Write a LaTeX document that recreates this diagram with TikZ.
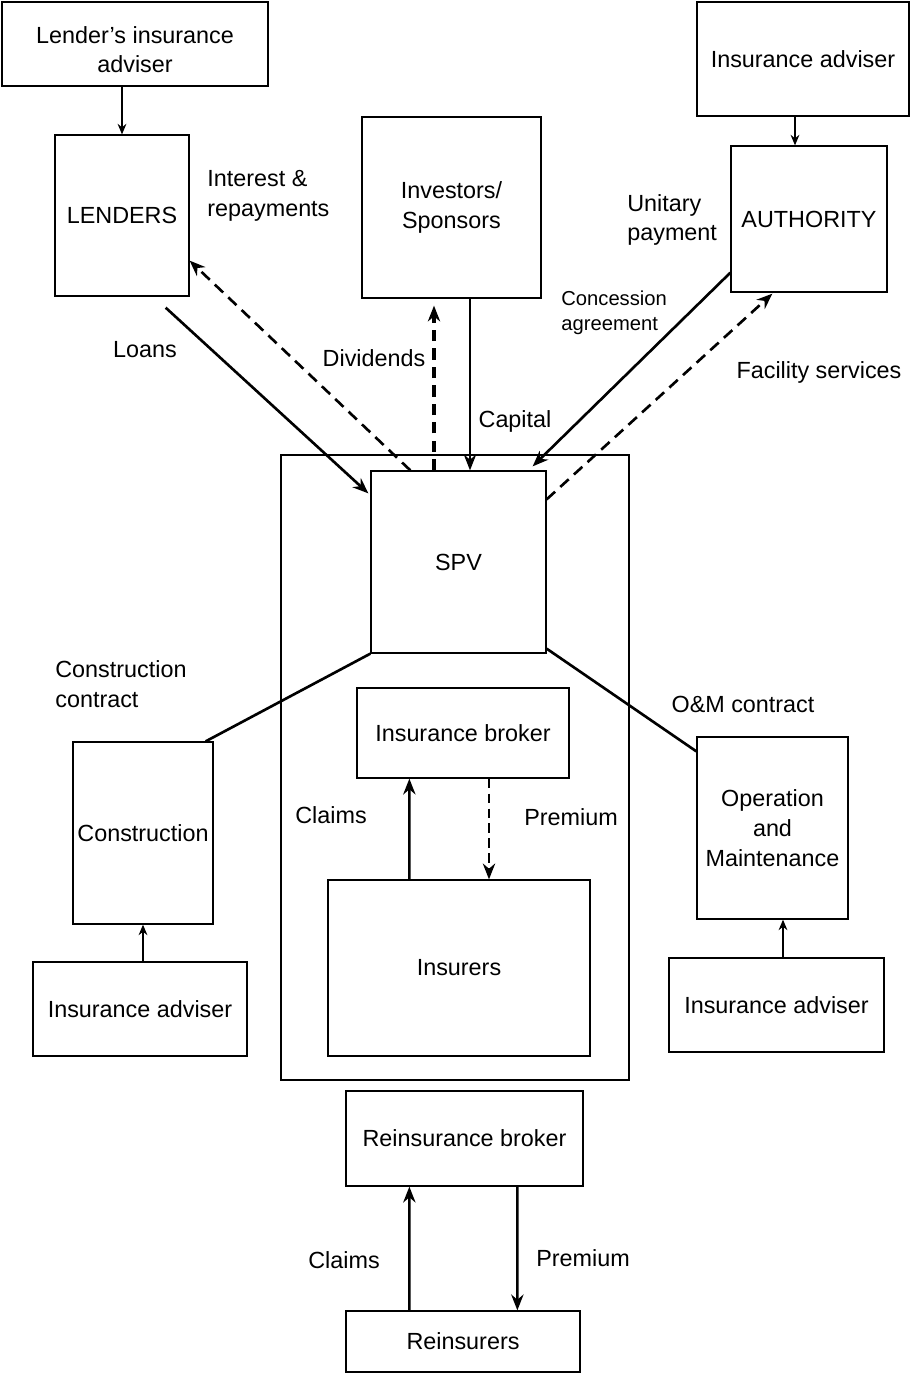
\documentclass[tikz,border=0pt]{standalone}
\usepackage{fontspec}
\setmainfont{Liberation Sans}
\usetikzlibrary{arrows.meta}
\tikzset{
  box/.style={draw,line width=0.75pt,inner sep=0pt,align=center},
  lbl/.style={inner sep=0pt,align=left},
  flow/.style={line width=1.5pt,-{Stealth[length=9pt,width=7pt]}},
  dflow/.style={flow,dash pattern=on 6.5pt off 4pt},
  thin arrow/.style={line width=0.75pt,-{Stealth[length=6pt,width=5pt]}},
  link/.style={line width=1.5pt}
}
\begin{document}
\begin{tikzpicture}[x=0.02cm,y=-0.02cm,font=\fontsize{13.3}{17}\selectfont]
\useasboundingbox (0,0) rectangle (917,1374);
\node[box,minimum width=5.32cm,minimum height=1.68cm,text height=33pt] (ladv) at (135,44) {Lender’s insurance\\adviser};
\node[box,minimum width=2.68cm,minimum height=3.22cm] (lenders) at (122,215.5) {LENDERS};
\node[box,minimum width=3.58cm,minimum height=3.62cm] (inv) at (451.5,207.5) {Investors/\\Sponsors};
\node[box,minimum width=4.24cm,minimum height=2.28cm] (aadv) at (803,59) {Insurance adviser};
\node[box,minimum width=3.12cm,minimum height=2.92cm] (auth) at (809,219) {AUTHORITY};
\node[box,minimum width=6.96cm,minimum height=12.5cm] (frame) at (455,767.5) {};
\node[box,minimum width=3.5cm,minimum height=3.64cm] (spv) at (458.5,562) {SPV};
\node[box,minimum width=4.24cm,minimum height=1.8cm] (ibrok) at (463,733) {Insurance broker};
\node[box,minimum width=5.24cm,minimum height=3.52cm] (insurers) at (459,968) {Insurers};
\node[box,minimum width=2.8cm,minimum height=3.64cm] (constr) at (143,833) {Construction};
\node[box,minimum width=4.28cm,minimum height=1.88cm] (cadv) at (140,1009) {Insurance adviser};
\node[box,minimum width=3.02cm,minimum height=3.64cm] (om) at (772.5,828) {Operation\\and\\Maintenance};
\node[box,minimum width=4.3cm,minimum height=1.88cm] (oadv) at (776.5,1005) {Insurance adviser};
\node[box,minimum width=4.74cm,minimum height=1.9cm] (rbrok) at (464.5,1138.5) {Reinsurance broker};
\node[box,minimum width=4.68cm,minimum height=1.22cm] (reins) at (463,1341.5) {Reinsurers};

\node[lbl,anchor=west] (interest) at (207,196) {Interest \&\\repayments};
\node[lbl] (loans) at (145,350) {Loans};
\node[lbl] (dividends) at (374,358) {Dividends};
\node[lbl] (capital) at (515,421) {Capital};
\node[lbl,anchor=west] (unitary) at (627,220) {Unitary\\payment};
\node[lbl,anchor=west,font=\fontsize{11.5}{14.5}\selectfont] (concession) at (561,313) {Concession\\agreement};
\node[lbl] (facility) at (819,372) {Facility services};
\node[lbl,anchor=west] (cconstr) at (55,684) {Construction\\contract};
\node[lbl] (ccom) at (743,704) {O\&M contract};
\node[lbl] (claims) at (331,815) {Claims};
\node[lbl] (premium) at (571,817) {Premium};
\node[lbl] (rclaims) at (344,1260) {Claims};
\node[lbl] (rpremium) at (583,1258) {Premium};

\draw[thin arrow] (ladv.south -| lenders.north) -- (lenders.north);
\draw[thin arrow] ([shift={(-8,0)}]aadv.south) -- ([shift={(-14,0)}]auth.north);
\draw[thin arrow] (cadv.north -| constr.south) -- (constr.south);
\draw[thin arrow] ([shift={(6.5,0)}]oadv.north) -- ([shift={(10.5,0)}]om.south);

\draw[flow] ([shift={(-24,11)}]lenders.south east) -- ([shift={(-2,23)}]spv.north west);
\draw[dflow] ([shift={(40,0)}]spv.north west) -- ([shift={(0,-36)}]lenders.south east);
\draw[dflow,line width=2.2pt] ([shift={(-24.5,0)}]spv.north) -- ([shift={(-17.5,7)}]inv.south);
\draw[flow] ([shift={(18.5,0)}]inv.south) -- ([shift={(11.5,0)}]spv.north);
\draw[flow] ([shift={(0,-20)}]auth.south west) -- ([shift={(-14,-4)}]spv.north east);
\draw[dflow] ([shift={(0,29)}]spv.north east) -- ([shift={(42,1)}]auth.south west);
\draw[link] (spv.south west) -- ([shift={(-8,0)}]constr.north east);
\draw[link] ([shift={(0,-5)}]spv.south east) -- ([shift={(0,15)}]om.north west);
\draw[flow] ([shift={(82,0)}]insurers.north west) -- ([shift={(53,0)}]ibrok.south west);
\draw[dflow,dash pattern=on 5.5pt off 3pt] ([shift={(26,0)}]ibrok.south) -- ([shift={(30,0)}]insurers.north);
\draw[flow] ([shift={(64,0)}]reins.north west) -- ([shift={(64,0)}]rbrok.south west);
\draw[flow] ([shift={(172,0)}]rbrok.south west) -- ([shift={(172,0)}]reins.north west);
\end{tikzpicture}
\end{document}
